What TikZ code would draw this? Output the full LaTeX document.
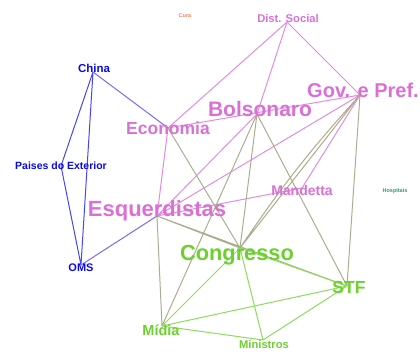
\documentclass[tikz,border=0pt]{standalone}
\usepackage{fontspec}
\setmainfont{Liberation Sans}

\definecolor{rosa}{RGB}{218,112,214}
\definecolor{verde}{RGB}{108,208,48}
\definecolor{azul}{RGB}{10,10,225}
\definecolor{rosaaresta}{RGB}{226,140,226}
\definecolor{verdearesta}{RGB}{140,222,90}
\definecolor{azularesta}{RGB}{70,70,240}
\definecolor{misturada}{RGB}{172,172,142}
\definecolor{roxa}{RGB}{125,105,240}
\definecolor{coral}{RGB}{250,128,90}
\definecolor{teal}{RGB}{40,150,120}

\begin{document}
\begin{tikzpicture}[x=1pt, y=-1pt,
    aresta/.style = {line width=1pt},
    rotulo/.style = {inner sep=0pt, font=\bfseries},
  ]
    \useasboundingbox (0,0) rectangle (420,352);

    % vertices
    \coordinate (cura)   at (185,16);
    \coordinate (dist)   at (287,22);
    \coordinate (china)  at (93,72);
    \coordinate (econ)   at (168,128);
    \coordinate (bols)   at (257,114);
    \coordinate (gov)    at (360,95);
    \coordinate (mand)   at (302,188);
    \coordinate (hosp)   at (395,191);
    \coordinate (paises) at (61,166);
    \coordinate (esq)    at (157,216);
    \coordinate (oms)    at (81,265);
    \coordinate (cong)   at (240,248);
    \coordinate (stf)    at (347,286);
    \coordinate (midia)  at (162,326);
    \coordinate (min)    at (263,340);

    % arestas
    \draw[aresta, azularesta] (china) -- (paises) (china) -- (oms) (paises) -- (oms);
    \draw[aresta, roxa] (china) -- (econ) (oms) -- (esq);
    \draw[aresta, rosaaresta] (dist) -- (econ) (dist) -- (bols) (dist) -- (gov)
      (econ) -- (gov) (econ) -- (esq) (bols) -- (esq) (gov) -- (esq)
      (gov) -- (mand) (mand) -- (esq);
    \draw[aresta, misturada] (econ) -- (cong) (bols) -- (cong) (bols) -- (midia)
      (bols) -- (stf) (gov) -- (stf) (gov) -- (cong) (gov) to[bend right=4] (cong)
      (esq) -- (midia) (esq) -- (cong) (esq) -- (stf);
    \draw[aresta, verdearesta] (cong) -- (stf) (cong) -- (midia) (cong) -- (min)
      (midia) -- (stf) (midia) -- (min) (stf) -- (min);

    % rotulos
    \node[rotulo, coral, font=\bfseries\fontsize{5.5}{6}\selectfont] (curaLbl) at (cura) {Cura};
    \node[rotulo, rosa, font=\bfseries\fontsize{11.2}{12}\selectfont] (distLbl) at (288,19) {Dist. Social};
    \node[rotulo, azul, font=\bfseries\fontsize{11.5}{12}\selectfont] (chinaLbl) at (94,68) {China};
    \node[rotulo, rosa, font=\bfseries\fontsize{17.5}{18}\selectfont] (econLbl) at (168,128) {Economia};
    \node[rotulo, rosa, font=\bfseries\fontsize{21}{22}\selectfont] (bolsLbl) at (260,109) {Bolsonaro};
    \node[rotulo, rosa, font=\bfseries\fontsize{20}{21}\selectfont] (govLbl) at (363,90) {Gov. e Pref.};
    \node[rotulo, rosa, font=\bfseries\fontsize{14}{15}\selectfont] (mandLbl) at (302,190) {Mandetta};
    \node[rotulo, teal, font=\bfseries\fontsize{5.5}{6}\selectfont] (hospLbl) at (hosp) {Hospitais};
    \node[rotulo, azul, font=\bfseries\fontsize{10.5}{11}\selectfont] (paisesLbl) at (61,166) {Paises do Exterior};
    \node[rotulo, rosa, font=\bfseries\fontsize{22}{23}\selectfont] (esqLbl) at (157,211) {Esquerdistas};
    \node[rotulo, azul, font=\bfseries\fontsize{11}{12}\selectfont] (omsLbl) at (81,268) {OMS};
    \node[rotulo, verde, font=\bfseries\fontsize{21.8}{23}\selectfont] (congLbl) at (237,255) {Congresso};
    \node[rotulo, verde, font=\bfseries\fontsize{17.5}{18}\selectfont] (stfLbl) at (349,287) {STF};
    \node[rotulo, verde, font=\bfseries\fontsize{14.5}{15}\selectfont] (midiaLbl) at (161,330) {Mídia};
    \node[rotulo, verde, font=\bfseries\fontsize{11.2}{12}\selectfont] (minLbl) at (264,344) {Ministros};
\end{tikzpicture}
\end{document}
